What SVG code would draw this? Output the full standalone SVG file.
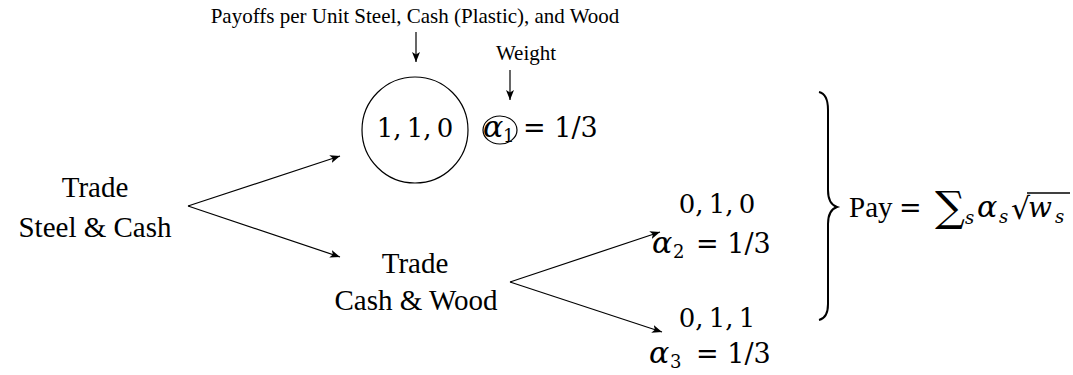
<svg xmlns="http://www.w3.org/2000/svg" width="1073" height="375" viewBox="0 0 1073 375">
<defs>
<marker id="ah" viewBox="0 0 10 8" refX="10" refY="4" markerWidth="10" markerHeight="8" markerUnits="userSpaceOnUse" orient="auto">
<path d="M0,0 L10,4 L0,8 L2.5,4 Z" fill="#000"/>
</marker>
<style>
.t{font-family:"Liberation Serif","Times New Roman",serif;fill:#000}
.m{font-family:"DejaVu Serif",serif;fill:#000}
.i{font-family:"DejaVu Serif",serif;font-style:italic;fill:#000}
.c{stroke:#000;stroke-width:1.2;fill:none;marker-end:url(#ah)}
.o{stroke:#000;stroke-width:1.2;fill:none}
</style>
</defs>
<rect width="1073" height="375" fill="#fff"/>
<g id="connectors">
<line class="c" x1="416" y1="32" x2="416" y2="62"/>
<line class="c" x1="510" y1="70" x2="510" y2="100"/>
<line class="c" x1="188" y1="206" x2="340" y2="156"/>
<line class="c" x1="188" y1="206" x2="340" y2="257"/>
<line class="c" x1="510" y1="282" x2="660" y2="232"/>
<line class="c" x1="510" y1="282" x2="662" y2="332"/>
</g>
<g id="label-payoffs"><text class="t" x="415" y="23" font-size="21" text-anchor="middle">Payoffs per Unit Steel, Cash (Plastic), and Wood</text></g>
<g id="label-weight"><text class="t" x="526" y="60" font-size="21" text-anchor="middle">Weight</text></g>
<g id="node-root">
<text class="t" x="95" y="197" font-size="29" text-anchor="middle">Trade</text>
<text class="t" x="95" y="237" font-size="29" text-anchor="middle">Steel &amp; Cash</text>
</g>
<g id="node-outcome1">
<circle class="o" cx="415" cy="130" r="53"/>
<text class="m" x="415" y="137" font-size="26" text-anchor="middle" word-spacing="-3">1, 1, 0</text>
<ellipse class="o" cx="500" cy="130" rx="17" ry="14"/>
<text class="i" x="483" y="137" font-size="30">α</text>
<text class="m" x="503" y="142" font-size="18">1</text>
<text class="m" x="523" y="137" font-size="27">= 1/3</text>
</g>
<g id="node-trade2">
<text class="t" x="415" y="273" font-size="29" text-anchor="middle">Trade</text>
<text class="t" x="416" y="310" font-size="29" text-anchor="middle">Cash &amp; Wood</text>
</g>
<g id="node-outcome2">
<text class="m" x="717" y="213" font-size="26" text-anchor="middle" word-spacing="-3">0, 1, 0</text>
<text class="i" x="652" y="253" font-size="30">α</text>
<text class="m" x="673" y="258" font-size="18">2</text>
<text class="m" x="696" y="253" font-size="27">= 1/3</text>
</g>
<g id="node-outcome3">
<text class="m" x="717" y="327" font-size="26" text-anchor="middle" word-spacing="-3">0, 1, 1</text>
<text class="i" x="649" y="363" font-size="30">α</text>
<text class="m" x="670" y="368" font-size="18">3</text>
<text class="m" x="696" y="363" font-size="27">= 1/3</text>
</g>
<g id="brace">
<path d="M819,92 Q828,94 828,110 L828,190 Q828,204 837,207 Q828,210 828,224 L828,304 Q828,318 819,320" fill="none" stroke="#000" stroke-width="2"/>
</g>
<g id="payoff-formula">
<text class="t" x="849" y="217" font-size="29">Pay</text>
<text class="m" x="899" y="217" font-size="27">=</text>
<text class="m" x="935" y="221" font-size="42">∑</text>
<text class="i" x="965" y="224" font-size="18">s</text>
<text class="i" x="977" y="217" font-size="30">α</text>
<text class="i" x="999" y="223" font-size="18">s</text>
<text class="m" x="1011" y="219" font-size="30">√</text>
<line x1="1027" y1="193" x2="1070" y2="193" stroke="#000" stroke-width="1.3"/>
<text class="i" x="1028" y="217" font-size="28">w</text>
<text class="i" x="1055" y="223" font-size="18">s</text>
</g>
</svg>
